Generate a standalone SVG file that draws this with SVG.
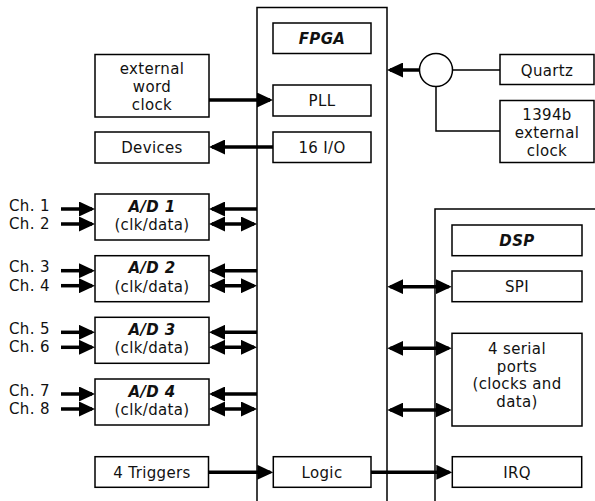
<svg xmlns="http://www.w3.org/2000/svg" width="595" height="501" viewBox="0 0 595 501">
<style>
.box{fill:#fff;stroke:#000;stroke-width:1.5}
.outer{fill:none;stroke:#000;stroke-width:1.5}
.thin{fill:none;stroke:#000;stroke-width:1.5}
.thick{fill:none;stroke:#000;stroke-width:3.5}
text{font-family:"DejaVu Sans","Verdana",sans-serif;font-size:15px;fill:#111;text-anchor:middle;letter-spacing:0.35px}
.bi{font-weight:bold;font-style:italic}
.lbl{text-anchor:start}
</style>
<defs>
<marker id="ah" viewBox="0 0 16 15" refX="13" refY="7.5" markerWidth="16" markerHeight="15" markerUnits="userSpaceOnUse" orient="auto-start-reverse">
<path d="M0,0 L16,7.5 L0,15 z" fill="#000"/>
</marker>
</defs>
<g id="fpga-frame"><path class="outer" d="M257,501 V7.5 H387 V501"/></g>
<g id="dsp-frame"><path class="outer" d="M435,501 V209 H596"/></g>
<g id="fpga-title"><rect class="box" x="273" y="23" width="98" height="30.5"/><text class="bi" x="322" y="43.5">FPGA</text></g>
<g id="pll"><rect class="box" x="273" y="85" width="98" height="31"/><text x="322" y="106">PLL</text></g>
<g id="io16"><rect class="box" x="273" y="132" width="98" height="30.5"/><text x="322" y="152.5">16 I/O</text></g>
<g id="extwc"><rect class="box" x="95" y="54.5" width="114" height="62.5"/><text x="152" y="73.5">external</text><text x="152" y="91.5">word</text><text x="152" y="109.5">clock</text></g>
<g id="devices"><rect class="box" x="95" y="132" width="114" height="31"/><text x="152" y="152.5">Devices</text></g>
<g id="mux"><circle cx="436" cy="70" r="16.5" fill="#fff" stroke="#000" stroke-width="1.5"/></g>
<g id="quartz"><rect class="box" x="500" y="54.5" width="94" height="30"/><text x="547" y="75.5">Quartz</text></g>
<g id="ext1394"><rect class="box" x="500" y="100.5" width="94" height="62"/><text x="547" y="119.5">1394b</text><text x="547" y="137.5">external</text><text x="547" y="155.5">clock</text></g>
<g id="ad1"><rect class="box" x="95" y="194" width="114" height="46"/><text class="bi" x="152" y="211.5">A/D 1</text><text x="152" y="230">(clk/data)</text></g>
<g id="ad2"><rect class="box" x="95" y="255.7" width="114" height="46"/><text class="bi" x="152" y="273.2">A/D 2</text><text x="152" y="291.7">(clk/data)</text></g>
<g id="ad3"><rect class="box" x="95" y="317.3" width="114" height="46"/><text class="bi" x="152" y="334.8">A/D 3</text><text x="152" y="353.3">(clk/data)</text></g>
<g id="ad4"><rect class="box" x="95" y="379" width="114" height="46"/><text class="bi" x="152" y="396.5">A/D 4</text><text x="152" y="415">(clk/data)</text></g>
<g id="chlabels">
<text class="lbl" x="9" y="210.5">Ch. 1</text><text class="lbl" x="9" y="229">Ch. 2</text>
<text class="lbl" x="9" y="272.2">Ch. 3</text><text class="lbl" x="9" y="290.7">Ch. 4</text>
<text class="lbl" x="9" y="333.8">Ch. 5</text><text class="lbl" x="9" y="352.3">Ch. 6</text>
<text class="lbl" x="9" y="395.5">Ch. 7</text><text class="lbl" x="9" y="414">Ch. 8</text>
</g>
<g id="dsp-title"><rect class="box" x="452" y="225" width="130" height="30.7"/><text class="bi" x="517" y="246">DSP</text></g>
<g id="spi"><rect class="box" x="452" y="271" width="130" height="30.7"/><text x="517" y="292">SPI</text></g>
<g id="serial"><rect class="box" x="452" y="333.3" width="130" height="92.7"/><text x="517" y="353.5">4 serial</text><text x="517" y="371.5">ports</text><text x="517" y="389.3">(clocks and</text><text x="517" y="407">data)</text></g>
<g id="triggers"><rect class="box" x="95" y="456.7" width="113.5" height="30.6"/><text x="152" y="477.5">4 Triggers</text></g>
<g id="logic"><rect class="box" x="273.3" y="456.7" width="97.7" height="30.6"/><text x="322" y="477.5">Logic</text></g>
<g id="irq"><rect class="box" x="452.3" y="456.7" width="129.4" height="30.6"/><text x="517" y="477.5">IRQ</text></g>
<g id="connectors">
<path class="thin" d="M452.5,70 H500 M436,86.5 V131 H500"/>
<path class="thick" d="M419.5,70 H390" marker-end="url(#ah)"/>
<path class="thick" d="M209,100 H270" marker-end="url(#ah)"/>
<path class="thick" d="M273,147 H212" marker-end="url(#ah)"/>
<path class="thick" d="M61,209 H92" marker-end="url(#ah)"/>
<path class="thick" d="M61,224 H92" marker-end="url(#ah)"/>
<path class="thick" d="M257,209 H212" marker-end="url(#ah)"/>
<path class="thick" d="M212,224 H254" marker-start="url(#ah)" marker-end="url(#ah)"/>
<path class="thick" d="M61,270.7 H92" marker-end="url(#ah)"/>
<path class="thick" d="M61,285.7 H92" marker-end="url(#ah)"/>
<path class="thick" d="M257,270.7 H212" marker-end="url(#ah)"/>
<path class="thick" d="M212,285.7 H254" marker-start="url(#ah)" marker-end="url(#ah)"/>
<path class="thick" d="M61,332.3 H92" marker-end="url(#ah)"/>
<path class="thick" d="M61,347.3 H92" marker-end="url(#ah)"/>
<path class="thick" d="M257,332.3 H212" marker-end="url(#ah)"/>
<path class="thick" d="M212,347.3 H254" marker-start="url(#ah)" marker-end="url(#ah)"/>
<path class="thick" d="M61,394 H92" marker-end="url(#ah)"/>
<path class="thick" d="M61,409 H92" marker-end="url(#ah)"/>
<path class="thick" d="M257,394 H212" marker-end="url(#ah)"/>
<path class="thick" d="M212,409 H254" marker-start="url(#ah)" marker-end="url(#ah)"/>
<path class="thick" d="M390.3,286.7 H448.7" marker-start="url(#ah)" marker-end="url(#ah)"/>
<path class="thick" d="M390.3,348.3 H448.7" marker-start="url(#ah)" marker-end="url(#ah)"/>
<path class="thick" d="M390.3,410 H448.7" marker-start="url(#ah)" marker-end="url(#ah)"/>
<path class="thick" d="M208.5,472.3 H270.3" marker-end="url(#ah)"/>
<path class="thick" d="M371,472.3 H449.3" marker-end="url(#ah)"/>
</g>
</svg>
